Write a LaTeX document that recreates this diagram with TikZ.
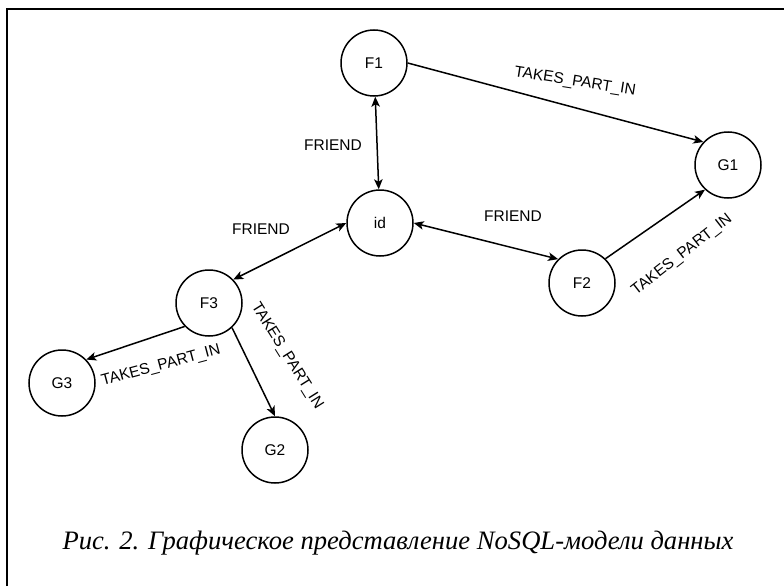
\documentclass[tikz,border=0pt]{standalone}
\usepackage{fontspec}
\setmainfont{Liberation Sans}
\newfontfamily\capfont{Liberation Serif}
\usetikzlibrary{arrows.meta}
\begin{document}
\begin{tikzpicture}[x=1pt,y=-1pt,
  vert/.style={circle,draw,line width=1.5pt,minimum size=66pt,inner sep=0pt,font=\fontsize{15.5}{17}\selectfont},
  lbl/.style={font=\fontsize{15.5}{17}\selectfont,inner sep=0pt},
  conn/.style={line width=1.5pt,-{Stealth[length=10pt,width=8.5pt,inset=2.5pt]}},
  biconn/.style={line width=1.5pt,{Stealth[length=10pt,width=8.5pt,inset=2.5pt]}-{Stealth[length=10pt,width=8.5pt,inset=2.5pt]}}]
\useasboundingbox (0,0) rectangle (784,586);
\draw[line width=2pt] (7,586) -- (7,9) -- (784,9);

\node[vert] (F1) at (374,63) {F1};
\node[vert] (id) at (380,223) {id};
\node[vert] (G1) at (728,165) {G1};
\node[vert] (F2) at (582,283) {F2};
\node[vert] (F3) at (209,303) {F3};
\node[vert] (G3) at (62,383) {G3};
\node[vert] (G2) at (275,450) {G2};

\draw[biconn] (F1) -- (id);
\draw[conn] (F1.east) -- (G1.137);
\draw[biconn] (id.west) -- (F3.44);
\draw[biconn] (id.east) -- (F2.135);
\draw[conn] (F2.46) -- (G1.-133);
\draw[conn] (F3.224) -- (G3.44);
\draw[conn] (F3.-47) -- (G2.north);

\node[lbl] (l1) at (333,145) {FRIEND};
\node[lbl] (l2) at (261,229) {FRIEND};
\node[lbl] (l3) at (513,216) {FRIEND};
\node[lbl,rotate=-9] (l4) at (575,82) {TAKES\_PART\_IN};
\node[lbl,rotate=38] (l5) at (682,255) {TAKES\_PART\_IN};
\node[lbl,rotate=15] (l6) at (161,366) {TAKES\_PART\_IN};
\node[lbl,rotate=-58] (l7) at (287,356) {TAKES\_PART\_IN};

\node (cap) at (398,543) {\capfont\itshape\fontsize{26.6}{30}\selectfont Рис. 2. Графическое представление NoSQL-модели данных};
\end{tikzpicture}
\end{document}
